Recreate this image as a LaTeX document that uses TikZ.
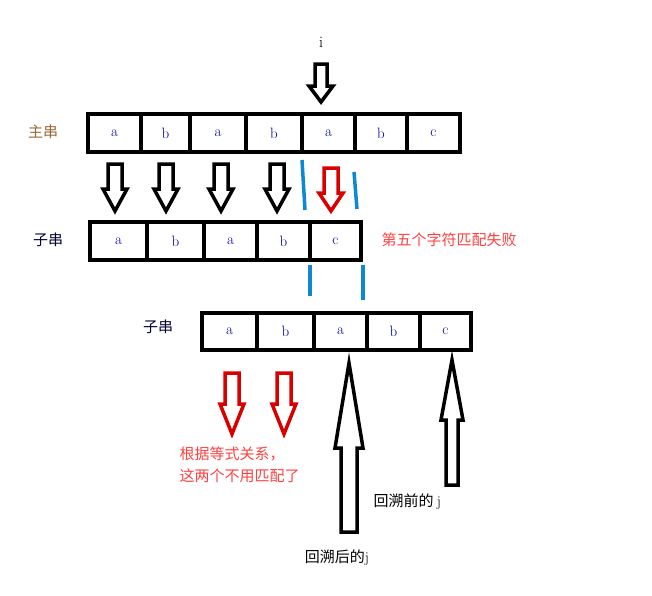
\documentclass[tikz,border=0pt]{standalone}
\usepackage{fontspec}
\newfontfamily\cjk{Noto Sans CJK SC}
\begin{document}
\begin{tikzpicture}[x=1pt,y=-1pt,
  cell/.style={draw,line width=4pt,anchor=north west,inner sep=0pt,font=\fontsize{15}{18}\selectfont},
  blue/.style={draw=cyan!70!blue,line width=3.5pt},
  lbl/.style={font=\cjk\fontsize{15}{22}\selectfont}]
\useasboundingbox (0,0) rectangle (652,595);
\newcommand\blockdown[7]{\draw[line width=3.5pt,draw=#7,line join=miter]
  (#1-#5,#2) -- (#1+#5,#2) -- (#1+#5,#3-#4) -- (#1+#6,#3-#4) -- (#1,#3) -- (#1-#6,#3-#4) -- (#1-#5,#3-#4) -- cycle;}
\newcommand\blockup[7]{\draw[line width=3.5pt,draw=#7,line join=miter]
  (#1-#5,#3) -- (#1+#5,#3) -- (#1+#5,#2+#4) -- (#1+#6,#2+#4) -- (#1,#2) -- (#1-#6,#2+#4) -- (#1-#5,#2+#4) -- cycle;}
\foreach \x/\w/\t [count=\k] in {86/53/a,139/49/b,188/56/a,244/56/b,300/53/a,353/52/b,405/53/c}
  \node[cell,minimum width=\w pt,minimum height=38pt,text=blue!60!black] (m\k) at (\x,112) {\t};
\foreach \x/\w/\t [count=\k] in {88/57/a,145/57/b,202/53/a,255/53/b,308/51/c}
  \node[cell,minimum width=\w pt,minimum height=38pt,text=blue!60!black] (s\k) at (\x,220) {\t};
\foreach \x/\w/\t [count=\k] in {200/55/a,255/57/b,312/53/a,365/53/b,418/51/c}
  \node[cell,minimum width=\w pt,minimum height=37pt,text=blue!60!black] (t\k) at (\x,311) {\t};
\node[font=\fontsize{16}{18}\selectfont] (i) at (321,42) {i};
\node[lbl,text=brown!80!black] (l1) at (43,132) {主串};
\node[lbl,text=black!80!blue] (l2) at (48,240) {子串};
\node[lbl,text=black!80!blue] (l3) at (158,327) {子串};
\node[lbl,text=red!75!white,anchor=west] (fail) at (378,240) {第五个字符匹配失败};
\node[lbl,text=red!75!white,anchor=west,align=left] (eq) at (176,465) {根据等式关系，\\这两个不用匹配了};
\node[lbl,anchor=west] (jb) at (370,502) {回溯前的 \rmfamily j};
\node[lbl] (ja) at (337,558) {回溯后的\rmfamily j};
\blockdown{321}{64}{102}{16}{6}{12}{black}
\foreach \x in {115,166,221,277}{\blockdown{\x}{164}{211}{22}{7}{12}{black}}
\blockdown{331}{168}{211}{18}{7}{12}{red!85!black}
\blockdown{232}{373}{434}{30}{7}{12}{red!85!black}
\blockdown{284}{373}{434}{30}{7}{12}{red!85!black}
\blockup{349}{363}{532}{85}{8}{14}{black}
\blockup{452}{360}{485}{60}{6}{11}{black}
\draw[blue] (302,160) -- (305,210);
\draw[blue] (354,172) -- (357,209);
\draw[blue] (310,265) -- (310,296);
\draw[blue] (363,265) -- (363,300);
\end{tikzpicture}
\end{document}
